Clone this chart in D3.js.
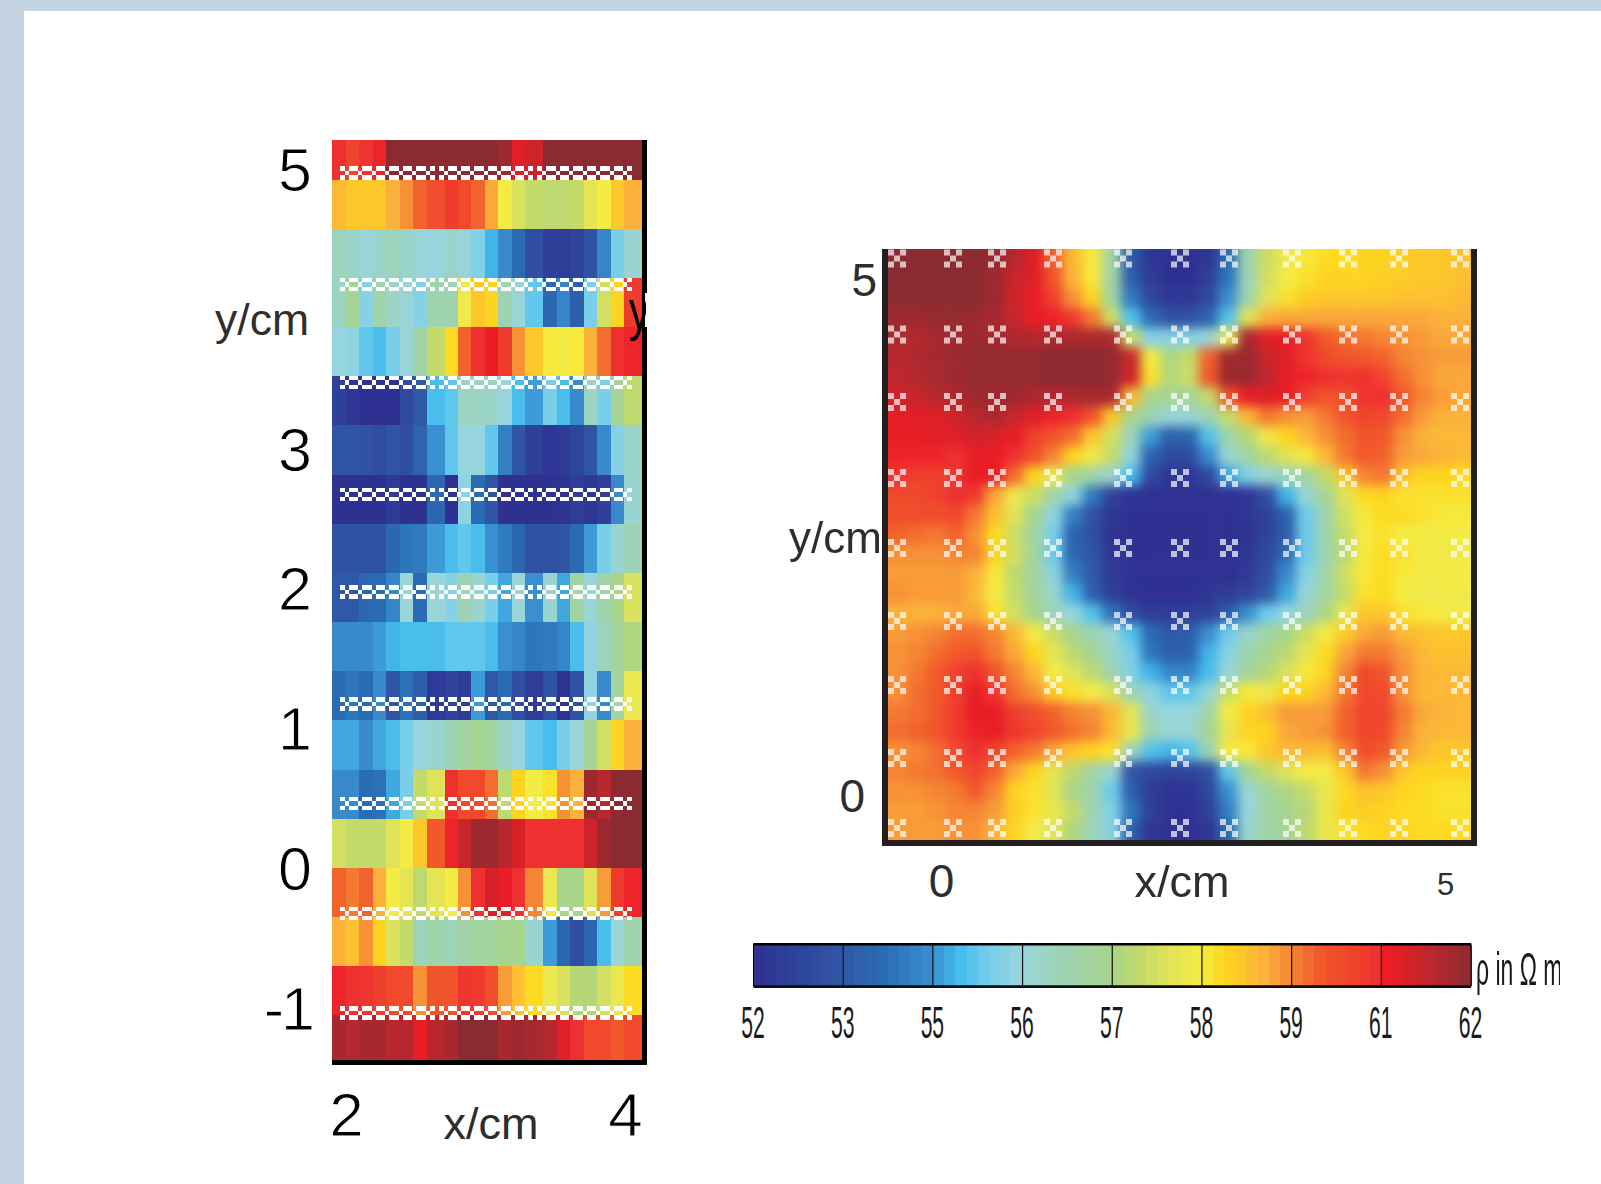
<!DOCTYPE html>
<html>
<head>
<meta charset="utf-8">
<script src="https://cdnjs.cloudflare.com/ajax/libs/d3/7.8.5/d3.min.js"></script>
<style>
html, body { margin: 0; padding: 0; background: #fff; }
svg { display: block; }
text { font-family: "Liberation Sans", Arial, sans-serif; }
</style>
</head>
<body>
<div id="chart"></div>
<script>
// colour map, rho in ohm m
const rhoStops = [52, 53.25, 53.83, 54.5, 54.87, 55.25, 55.73, 56.3, 57, 57.33, 57.78, 58.23, 58.53, 59.13, 59.5, 59.87, 60.75, 60.84, 61.37, 62];
const rhoColors = ["#2e3192", "#3057a6", "#2a6db4", "#3a8fd0", "#45bdec", "#75cdec", "#98d5dc", "#9dd3b4", "#a8d58a", "#bfd96d", "#dfe35a", "#f5ec44", "#fdd91e", "#fbb03b", "#f58534", "#f15a2a", "#ee2e30", "#ed1c24", "#c1272d", "#8b2a30"];
const barTicks = [52, 53.25, 54.5, 55.75, 57, 58.25, 59.5, 60.75, 62];
const barLabels = ["52", "53", "55", "56", "57", "58", "59", "61", "62"];

// left panel: cell edges in cm, then rows from top to bottom
const leftXEdges = [1.9, 2, 2.093, 2.194, 2.287, 2.387, 2.48, 2.581, 2.71, 2.803, 2.896, 2.996, 3.09, 3.19, 3.283, 3.412, 3.513, 3.606, 3.706, 3.799, 3.9, 3.993, 4.122];
const leftYEdges = [5.215, 4.928, 4.578, 4.227, 3.877, 3.526, 3.176, 2.818, 2.468, 2.117, 1.767, 1.416, 1.066, 0.708, 0.358, 0.007, -0.343, -0.694, -1.044, -1.366];
const leftMarkerY = [4.98, 4.18, 3.48, 2.68, 1.98, 1.18, 0.47, -0.32, -1.03];
const leftYTicks = [5, 3, 2, 1, 0, -1];
const leftXTicks = [2, 4];
const leftValues = [
  [60.7,60.3,60.6,60.8,62,62,62,62,62,62,62,62,61.8,61,61.2,62,62,62,62,62,62,62],
  [59,58.8,58.8,58.8,59.1,59.4,59.8,60.1,60.5,60.2,59.8,59.2,58.2,57.7,57.4,57.3,57.3,57.4,57.9,58.2,58.8,59.1],
  [56.2,56,55.8,56,56.2,56,55.8,55.7,56,55.8,55.4,54.8,54.4,53.8,53,52.5,52.4,52.6,53.1,54.3,55.3,55.9],
  [56.1,56.8,55.5,56.5,56.1,55.8,55.5,56.4,56.4,58.1,58.8,58.6,56.3,55.8,55.1,53.7,54.3,53.5,55.3,57.6,58.6,60.5],
  [55.7,55.6,55.1,54.9,55.3,55.8,56.5,57.4,58.5,59.8,60.7,60.9,60.5,59.4,58.8,58.3,58.2,58.3,59.1,59.7,60.7,60.8],
  [52.5,52.2,52,52,52,52.8,53.3,54.9,55.1,56.1,56.1,56,55.7,54.9,54.6,55.3,54.9,54.4,56.1,55.3,56.8,57.3],
  [53.2,53.2,53.1,52.9,53.2,53,53.6,54.5,55.1,55.7,55.7,55.1,54.2,53.2,52.5,52.2,52.3,52.7,53.2,54.4,55.5,56],
  [52,52,52,52,52.3,52,52,53.7,52,55.6,53.8,53.2,52,52,52,52,52.1,52.4,52.2,52.5,54.4,55.9],
  [53.1,53.1,53.1,53.1,53.7,54,54.1,54.6,54.9,55.1,54.9,54.5,54.1,53.7,53.1,53.1,53.2,53.8,54.6,55.3,55.9,56.3],
  [53.3,53.3,53.7,53.8,54.3,55.8,53.8,55.8,55.5,56.3,55.9,55.3,54.7,55.8,54.5,55.9,54.7,56.6,55.8,56.5,57,57.7],
  [54.4,54.4,54.4,54.6,54.8,54.9,54.9,54.9,55.1,55.1,55.1,54.9,54.5,54.3,54,54.1,54.3,54.9,55.6,56.2,56.7,57.1],
  [53.8,54,53.8,54.4,53.2,53.9,53.4,52.3,52.6,52.4,54.6,53.3,53.8,53,52.4,53.1,52.1,53.1,55.6,54.4,56.7,58],
  [54.7,54.7,54.4,54.7,54.9,55.3,55.7,55.9,56.3,56.6,56.9,56.6,56.1,55.7,55.1,54.9,55.3,55.8,56.8,57.6,58.6,59.1],
  [54.4,54.4,53.8,53.9,54.7,55.3,57.4,57.8,60.7,60.2,60.2,59.7,57.3,58.6,58.2,58.4,59.4,59.1,61.8,61.5,62,62],
  [57.6,57.4,57.4,57.4,57.8,58.2,58.8,59.9,60.8,61.3,61.8,61.8,61.5,61.1,60.7,60.7,60.7,60.7,61.2,61.8,62,62],
  [59.8,59.6,59.8,59.1,58.2,57.9,57.3,57.9,58.2,59.4,60.7,61.1,60.9,60.7,59.5,58,57,57,57.8,59.3,60.5,60.8],
  [59.1,58.9,59.4,58.6,57.7,57.4,56.2,56.5,56.2,56.5,56.6,56.7,56.9,56.9,55.9,54.6,53.7,53,53.7,54.9,55.8,56.4],
  [60.8,60.7,60.6,60.4,60.2,60.2,59.4,60,60,60.6,60.5,60.1,59.3,58.9,58.5,58,57.7,57.2,57.2,57.6,58,58.5],
  [61.7,61.5,61.7,61.7,61.5,61.5,60.9,61.5,61.7,62,62,62,61.7,61.8,61.7,61.5,61,60.7,60.2,60.2,59.9,60.2]
];

// right panel: 30 x 30 readings, rows from top to bottom
const rightMarkerX = [-0.436, 0.119, 0.556, 1.111, 1.806, 2.371, 2.857, 3.482, 4.038, 4.544, 5.149];
const rightMarkerY = [5.199, 4.462, 3.808, 3.072, 2.393, 1.686, 1.066, 0.359, -0.32];
const rightValues = [
  [62,62,62,62,62,61.9,61.5,61,59.8,59,58.3,56.6,53.3,52.2,52,52,52.2,53.8,56.5,57.5,58.1,58.3,58.5,58.5,58.6,58.6,58.7,58.8,58.8,58.9],
  [62,62,62,62,62,61.8,61.3,61,60,59.1,58.3,56.5,53.5,52.4,52,52,52.5,54,56.2,57.6,58.2,58.4,58.6,58.6,58.6,58.7,58.7,58.8,58.8,58.9],
  [62,62,62,62,62,61.8,61.2,60.9,60.4,59.4,58.6,56.6,54.1,52.8,52.3,52.3,52.8,54.5,56.4,57.8,58.4,58.7,58.8,58.8,58.8,58.8,58.9,58.9,58.9,59],
  [61.8,61.8,61.9,61.9,61.8,61.7,61.3,60.9,60.8,60.5,59.6,57.5,55,53.8,53.1,53.1,53.6,55,57.8,59.1,59.2,59.2,59.2,59.2,59.2,59.2,59.2,59.2,59.1,59.1],
  [61.6,61.5,61.7,61.8,61.8,61.7,61.6,61.5,61.6,61.6,61.6,61.6,57.5,55.5,55.5,55.5,55.8,58,61.7,61,60.9,60.6,59.9,59.7,59.6,59.5,59.4,59.3,59.2,59.2],
  [61.5,61.6,61.7,61.8,61.9,61.9,61.9,61.9,62,62,62,61.9,61.3,58.2,57.1,57.4,59.8,61.8,61.8,61.3,61,60.6,60.2,60,59.9,59.8,59.5,59.4,59.3,59.3],
  [61.4,61.5,61.7,61.8,61.9,61.9,61.9,61.9,62,62,62,61.9,61.2,58.4,57.2,57.5,59.9,61.8,61.8,61.4,60.9,60.8,60.7,60.6,60.7,60.3,59.7,59.4,59.2,59.2],
  [61.2,61.3,61.5,61.6,61.8,61.8,61.8,61.6,61.5,61.6,61.7,61.6,59,57,56.8,56.8,57.4,60,60.9,61,60.9,60.4,60,60.1,60.6,60.7,59.9,59.5,59.3,59.2],
  [60.9,61,61,61.2,61.5,61.6,61.3,61,60.8,60.7,60,58.8,57,56.3,55.8,55.8,56.3,57.4,59,59.6,59.4,59.3,59.6,60,60.3,60.2,59.7,59.3,59.1,59.1],
  [60.9,60.9,61,61,61.2,61.1,60.9,60.4,60,59.7,58.8,57.6,56.2,54.6,53.5,53.7,55,56.4,57.2,58.1,58.6,59,59.4,59.7,60,59.9,59.4,59.1,59,59],
  [60.8,60.8,60.8,60.7,60.9,60.9,60.7,60.1,59.5,58.6,58.1,57.4,55.6,53.6,52.8,52.9,54.5,55.9,56.6,57.3,57.8,58.3,59,59.6,59.9,59.8,59.3,59.2,59.1,59],
  [60.6,60.4,60.4,60.6,60.9,60.9,59.7,58.6,58,56.9,56.5,55.9,54.9,52.8,52.2,52.2,52.8,54.7,55.4,55.9,56.2,56.6,57.4,58.8,59.5,59.6,58.9,58.6,58.6,58.5],
  [60.2,60.2,60.4,60.7,60.5,59.2,58.1,57.5,56.6,55.6,54.1,52.5,52.1,52,52,52,52,52,52.2,53,54.8,55.8,56.8,57.8,58.5,58.6,58.4,58.4,58.4,58.4],
  [60.1,60.1,60.1,60.3,59.6,58.9,57.8,56.9,55.6,54.2,53.1,52.2,52,52,52,52,52,52,52.2,52.5,53.6,55.2,56.4,57.6,58.3,58.5,58.5,58.4,58.3,58.3],
  [59.8,59.7,59.6,59.8,59.4,58.5,57.5,56.6,55.3,53.6,53,52.1,52,52,52,52,52,52,52.1,52.6,53.4,55.2,56.4,57.4,58.2,58.4,58.2,58.2,58.2,58.2],
  [59.4,59.4,59.4,59.5,59.5,58.6,57.6,56.7,55.2,53.7,53.2,52.2,52,52,52,52,52,52,52.2,52.8,53.8,55.2,56.3,57.3,58.3,58.5,58.4,58.2,58.1,58.1],
  [59.3,59.3,59.3,59.3,59.1,58.3,57.3,56.6,55.6,54.2,53.3,52.3,52,52,52,52,52,52,52.3,53,54.4,55.5,56.5,57.6,58.3,58.5,58.3,58.2,58.2,58.2],
  [59.4,59.3,59.3,59.3,59,58.2,57.4,56.7,56,54.8,53.5,52.5,52.1,52,52,52,52.2,52.4,52.7,53.3,54.7,55.8,56.6,57.4,58.4,58.5,58.2,58.1,58.1,58.1],
  [59.1,59.1,59.1,59.2,59.2,58.4,57.6,57,56.2,55.7,55,54,52.9,52.4,52.4,52.5,52.6,53.4,54.5,55.2,55.7,56.2,57.1,58,58.8,58.8,58.4,58.3,58.2,58.2],
  [59.3,59.4,59.5,59.7,59.7,59.5,59,58.2,57.5,56.9,56.3,55.8,55,53.8,53.3,53.4,54.5,55.2,56,56.5,57,57.5,58.2,58.7,59.2,59.3,59,58.9,58.8,58.8],
  [59.4,59.5,59.7,59.9,60,59.6,59.2,58.6,57.9,57.3,56.8,56,55.3,54,53.5,53.6,54.8,55.5,56.4,56.9,57.3,57.9,58.5,59.2,59.6,59.6,59.3,59,58.9,58.9],
  [59.4,59.6,59.9,60.4,60.7,60,59.5,59,58.2,57.8,57.3,56.4,55.4,54.8,54.3,54.3,54.9,55.8,56.7,57.2,57.7,58.3,58.6,59.5,60.2,60,59.4,59.1,59,59],
  [59.4,59.7,59.9,60.4,60.9,60.6,59.7,59.4,58.7,58.4,58.2,57.7,56.3,55.6,55.1,55.1,55.7,57.5,58.3,58.1,58.6,58.6,59,59.6,60.2,60.2,59.4,59,59,59],
  [59.6,59.7,59.9,60.5,60.9,60.9,60.4,60.1,59.8,59.5,59.4,59,57.9,56,55.7,55.8,56.5,58.2,58.6,58.9,59.3,59.3,59.3,59.8,60.3,60.3,59.6,59.2,59.1,59],
  [59.7,59.8,60,60.5,60.8,60.9,60.6,60.3,59.9,59.7,59.5,59,58,56.4,55.8,55.9,56.8,57.9,58.6,58.6,59.2,59.3,59.4,59.8,60.3,60.2,59.5,59.1,59,59],
  [59.4,59.5,59.7,60.2,60.7,60.3,59.8,59.6,59.2,58.8,58.6,58.4,56.2,55,54.8,55,56.2,58.3,58.3,58.8,59,59,58.9,59.5,60.1,59.9,59.3,59,58.8,58.8],
  [59.5,59.6,59.7,59.9,60.3,59.8,59.2,58.6,57.9,57.3,56.6,55.9,53.2,52.8,52.6,52.7,53,55.1,56.8,57.4,57.8,58.2,58.2,58.8,59.6,59.4,58.8,58.6,58.6,58.6],
  [59.4,59.4,59.5,59.6,59.9,59.5,58.6,58.4,57.8,57,56.4,55.2,53.5,52.4,52.1,52.1,52.8,54.5,55.8,56.6,57.1,57.4,58,58.5,58.9,58.8,58.6,58.5,58.4,58.4],
  [59.3,59.3,59.4,59.5,59.5,59.3,58.7,58.4,58,57.4,56.4,55.4,54,52.5,52,52,52.5,54.2,55.7,56.6,56.9,57.2,58,58.6,58.7,58.6,58.5,58.5,58.4,58.4],
  [59.3,59.3,59.3,59.4,59.4,59.1,58.6,58.2,57.8,57.1,56.2,55.5,53.5,52.2,52,52,52.2,53.8,56,56.5,56.8,57.3,58,58.4,58.5,58.6,58.6,58.5,58.5,58.5]
];

const w = 1601;
const h = 1184;
const inkDark = "#231f20";
const textGrey = "#2e2e2e";

const svg = d3.select("#chart").append("svg").attr("width", w).attr("height", h);
const defs = svg.append("defs");

// page background strips
svg.append("rect").attr("width", w).attr("height", 11).attr("fill", "#c5d4e3");
svg.append("rect").attr("width", 24).attr("height", h).attr("fill", "#c5d4e3");

const color = d3.scaleLinear().domain(rhoStops).range(rhoColors).clamp(true);

// five little squares, makes the pixel looking x of the electrodes
function crossPath(s) {
  const p = d3.path();
  [[-1.5, -1.5], [0.5, -1.5], [-0.5, -0.5], [-1.5, 0.5], [0.5, 0.5]].forEach(c => {
    p.rect(c[0] * s, c[1] * s, s, s);
  });
  return p.toString();
}

// ---------- left panel ----------
const xLeft = d3.scaleLinear().domain([2, 4]).range([346, 625]);
const yLeft = d3.scaleLinear().domain([0, 5]).range([869, 170]);

const leftCells = svg.append("g").attr("shape-rendering", "crispEdges");
leftValues.forEach((row, r) => {
  leftCells.selectAll(null)
    .data(row)
    .enter()
    .append("rect")
    .attr("x", (d, i) => xLeft(leftXEdges[i]))
    .attr("y", yLeft(leftYEdges[r]))
    .attr("width", (d, i) => xLeft(leftXEdges[i + 1]) - xLeft(leftXEdges[i]))
    .attr("height", yLeft(leftYEdges[r + 1]) - yLeft(leftYEdges[r]))
    .attr("fill", d => color(d));
});

const leftMarkers = svg.append("g").attr("fill", "#fff").attr("shape-rendering", "crispEdges");
leftMarkerY.forEach(my => {
  leftMarkers.selectAll(null)
    .data(leftXEdges.slice(1, -1))
    .enter()
    .append("path")
    .attr("d", crossPath(4.5))
    .attr("transform", d => `translate(${xLeft(d) + 1}, ${yLeft(my)})`);
});

// stray y sitting under the frame
defs.append("clipPath").attr("id", "strayClip")
  .append("rect").attr("x", 620).attr("y", 290).attr("width", 26).attr("height", 60);
svg.append("g").attr("clip-path", "url(#strayClip)")
  .append("text")
  .attr("transform", "translate(629, 329) scale(0.75, 1)")
  .attr("font-size", 56)
  .attr("fill", "#000")
  .text("y");

// black frame, right and bottom only, with the small notch in it
const frameLeft = svg.append("g").attr("fill", "#000");
frameLeft.append("rect").attr("x", 642).attr("y", 140).attr("width", 5).attr("height", 153);
frameLeft.append("rect").attr("x", 642).attr("y", 293).attr("width", 3).attr("height", 34);
frameLeft.append("rect").attr("x", 642).attr("y", 327).attr("width", 5).attr("height", 738);
frameLeft.append("rect").attr("x", 332).attr("y", 1060).attr("width", 315).attr("height", 5);

const leftYAxis = d3.axisLeft(yLeft).tickValues(leftYTicks).tickSize(0).tickPadding(0).tickFormat(d3.format("d"));
const leftYGroup = svg.append("g").attr("transform", "translate(312, 1)").call(leftYAxis);
const leftXAxis = d3.axisBottom(xLeft).tickValues(leftXTicks).tickSize(0).tickPadding(0).tickFormat(d3.format("d"));
const leftXGroup = svg.append("g").attr("transform", "translate(0, 1136)").call(leftXAxis);
leftYGroup.select(".domain").remove();
leftXGroup.select(".domain").remove();
// white outline thins the digits down to the look of the bitmap labels
leftYGroup.selectAll("text")
  .text(d => d === -1 ? "-1" : d)
  .attr("font-size", 61)
  .attr("letter-spacing", d => d === -1 ? -3 : 0)
  .attr("fill", "#000")
  .attr("stroke", "#fff")
  .attr("stroke-width", 1);
leftXGroup.selectAll("text")
  .attr("y", 0)
  .attr("dy", 0)
  .attr("font-size", 62)
  .attr("fill", "#000")
  .attr("stroke", "#fff")
  .attr("stroke-width", 1);

svg.append("text").attr("x", 309).attr("y", 335).attr("text-anchor", "end").attr("font-size", 44.5).attr("fill", textGrey).text("y/cm");
svg.append("text").attr("x", 491).attr("y", 1139).attr("text-anchor", "middle").attr("font-size", 45).attr("fill", textGrey).text("x/cm");

// ---------- right panel ----------
const xRight = d3.scaleLinear().domain([0, 5]).range([941, 1445]);
const yRight = d3.scaleLinear().domain([0, 5]).range([795, 279]);
const xGrid = d3.scaleBand().domain(d3.range(rightValues[0].length)).range([888, 1471]);
const yGrid = d3.scaleBand().domain(d3.range(rightValues.length)).range([249, 840]);

defs.append("clipPath").attr("id", "rightClip")
  .append("rect").attr("x", 884).attr("y", 249).attr("width", 590).attr("height", 594);
const soft = defs.append("filter").attr("id", "soft")
  .attr("filterUnits", "userSpaceOnUse")
  .attr("x", 820).attr("y", 180).attr("width", 720).attr("height", 730)
  .attr("color-interpolation-filters", "sRGB");
soft.append("feGaussianBlur").attr("stdDeviation", 5.5);
const softMarker = defs.append("filter").attr("id", "softMarker")
  .attr("filterUnits", "userSpaceOnUse")
  .attr("x", 820).attr("y", 180).attr("width", 720).attr("height", 730);
softMarker.append("feGaussianBlur").attr("stdDeviation", 0.6);

const overhang = 40; // edge cells run past the frame so the blur keeps them solid
const rightCells = svg.append("g").attr("clip-path", "url(#rightClip)").append("g").attr("filter", "url(#soft)");
const lastCol = rightValues[0].length - 1;
const lastRow = rightValues.length - 1;
rightValues.forEach((row, r) => {
  rightCells.selectAll(null)
    .data(row)
    .enter()
    .append("rect")
    .attr("x", (d, i) => xGrid(i) - (i === 0 ? overhang : 0))
    .attr("y", yGrid(r) - (r === 0 ? overhang : 0))
    .attr("width", (d, i) => xGrid.bandwidth() + 0.5 + (i === 0 || i === lastCol ? overhang : 0))
    .attr("height", yGrid.bandwidth() + 0.5 + (r === 0 || r === lastRow ? overhang : 0))
    .attr("fill", d => color(d));
});

const rightMarkers = svg.append("g").attr("fill", "#fff").attr("opacity", 0.7).attr("filter", "url(#softMarker)");
rightMarkerY.forEach(my => {
  rightMarkers.selectAll(null)
    .data(rightMarkerX)
    .enter()
    .append("path")
    .attr("d", crossPath(6))
    .attr("transform", d => `translate(${xRight(d)}, ${yRight(my)})`);
});

const frameRight = svg.append("g").attr("fill", inkDark);
frameRight.append("rect").attr("x", 882).attr("y", 249).attr("width", 6).attr("height", 597);
frameRight.append("rect").attr("x", 1471).attr("y", 249).attr("width", 6).attr("height", 597);
frameRight.append("rect").attr("x", 882).attr("y", 840).attr("width", 595).attr("height", 6);

const rightYAxis = d3.axisLeft(yRight).tickValues([0, 5]).tickSize(0).tickPadding(0).tickFormat(d3.format("d"));
const rightYGroup = svg.append("g").attr("transform", "translate(877, 0)").call(rightYAxis);
const rightXAxis = d3.axisBottom(xRight).tickValues([0, 5]).tickSize(0).tickPadding(0).tickFormat(d3.format("d"));
const rightXGroup = svg.append("g").attr("transform", "translate(0, 897)").call(rightXAxis);
rightYGroup.select(".domain").remove();
rightXGroup.select(".domain").remove();
rightYGroup.selectAll("text")
  .attr("font-size", 46)
  .attr("fill", textGrey)
  .attr("dy", "0.35em")
  .attr("x", d => d === 0 ? -12 : 0);
rightXGroup.selectAll("text")
  .attr("y", d => d === 0 ? 0 : -2)
  .attr("dy", 0)
  .attr("font-size", d => d === 0 ? 46 : 31)
  .attr("fill", textGrey);

svg.append("text").attr("x", 882).attr("y", 553).attr("text-anchor", "end").attr("font-size", 44).attr("fill", textGrey).text("y/cm");
svg.append("text").attr("x", 1182).attr("y", 897).attr("text-anchor", "middle").attr("font-size", 45).attr("fill", textGrey).text("x/cm");

// ---------- colour bar ----------
const xBar = d3.scaleLinear().domain([52, 62]).range([753.5, 1471]);
const bandCount = 64;
const bandRho = d3.range(bandCount).map(i => 52 + 10 * i / bandCount);
const barTop = 945;
const barHeight = 41;

svg.append("g").attr("shape-rendering", "crispEdges")
  .selectAll("rect")
  .data(bandRho)
  .enter()
  .append("rect")
  .attr("x", d => xBar(d))
  .attr("y", barTop)
  .attr("width", xBar(62) / bandCount - xBar(52) / bandCount + 0.5)
  .attr("height", barHeight)
  .attr("fill", d => color(d + 5 / bandCount));

svg.append("rect")
  .attr("x", xBar(52))
  .attr("y", barTop - 1)
  .attr("width", xBar(62) - xBar(52))
  .attr("height", barHeight + 1)
  .attr("fill", "none")
  .attr("stroke", "#000")
  .attr("stroke-width", 1);
svg.append("rect").attr("x", xBar(52)).attr("y", barTop - 2).attr("width", xBar(62) - xBar(52)).attr("height", 2.5).attr("fill", "#000");
svg.append("rect").attr("x", xBar(52)).attr("y", barTop + barHeight - 0.5).attr("width", xBar(62) - xBar(52)).attr("height", 2.5).attr("fill", "#111");

svg.append("g")
  .selectAll("line")
  .data(barTicks.slice(1, -1))
  .enter()
  .append("line")
  .attr("x1", d => xBar(d))
  .attr("x2", d => xBar(d))
  .attr("y1", barTop)
  .attr("y2", barTop + barHeight)
  .attr("stroke", "#111")
  .attr("stroke-width", 1.2);

const barAxis = d3.axisBottom(xBar).tickValues(barTicks).tickSize(0).tickPadding(0).tickFormat((d, i) => barLabels[i]);
const barGroup = svg.append("g").attr("transform", "translate(-1, 1038)").call(barAxis);
barGroup.select(".domain").remove();
barGroup.selectAll("text")
  .attr("y", 0)
  .attr("dy", 0)
  .attr("font-size", 44)
  .attr("fill", "#1a1a1a")
  .attr("transform", "scale(0.48, 1)");

defs.append("clipPath").attr("id", "rhoClip")
  .append("rect").attr("x", 1470).attr("y", 930).attr("width", 90).attr("height", 80);
svg.append("g").attr("clip-path", "url(#rhoClip)")
  .append("text")
  .attr("transform", "translate(1476, 985) scale(0.5, 1)")
  .attr("font-size", 46)
  .attr("fill", "#1a1a1a")
  .text("ρ in Ω m");
</script>
</body>
</html>
